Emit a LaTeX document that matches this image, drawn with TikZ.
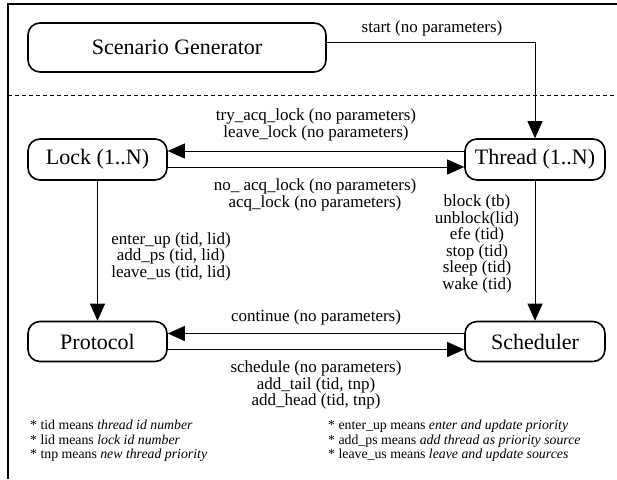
\documentclass[tikz,border=0pt]{standalone}
\usepackage{fontspec}
\setmainfont{Liberation Serif}
\usetikzlibrary{arrows.meta}
\begin{document}
\begin{tikzpicture}[x=1pt,y=-1pt,
  unit/.style={draw, line width=1.6pt, rounded corners=12pt, inner sep=0pt,
    font=\fontsize{22}{26}\selectfont},
  msg/.style={align=center, inner sep=0pt, font=\fontsize{17}{14.8}\selectfont},
  note/.style={align=left, anchor=north west, inner sep=0pt, font=\fontsize{13.8}{14.5}\selectfont},
  flow/.style={line width=0.8pt, -{Triangle[length=17pt,width=15pt]}},
  frameline/.style={line width=2pt}]
\useasboundingbox (0,0) rectangle (617,479);

% outer frame (only top and left edges fall inside the page)
\coordinate (fTR) at (617,4);
\coordinate (fTL) at (8,4);
\coordinate (fBL) at (8,479);
\draw[frameline] (fTR) -- (fTL) -- (fBL);

% separator between the generator and the system under test
\coordinate (sepL) at (8,95);
\coordinate (sepR) at (617,95);
\draw[line width=0.8pt, dash pattern=on 4pt off 3pt] (sepL) -- (sepR);

% components
\node[unit, minimum width=298pt, minimum height=49pt] (gen) at (177,47.5) {Scenario Generator};
\node[unit, minimum width=139pt, minimum height=41pt] (lock) at (97.5,159.5) {Lock (1..N)};
\node[unit, minimum width=140pt, minimum height=41pt] (thread) at (535,159.5) {Thread (1..N)};
\node[unit, minimum width=139pt, minimum height=40pt] (proto) at (97.5,341.5) {Protocol};
\node[unit, minimum width=140pt, minimum height=40pt] (sched) at (535,341.5) {Scheduler};

% messages
\draw[flow] ([yshift=5pt]gen.east) -| (thread.north);
\draw[flow] ([yshift=8.5pt]thread.west) -- ([yshift=8.5pt]lock.east);
\draw[flow] ([yshift=-7.5pt]lock.east) -- ([yshift=-7.5pt]thread.west);
\draw[flow] (lock.south) -- (proto.north);
\draw[flow] (thread.south) -- (sched.north);
\draw[flow] ([yshift=8pt]sched.west) -- ([yshift=8pt]proto.east);
\draw[flow] ([yshift=-8pt]proto.east) -- ([yshift=-8pt]sched.west);

% message labels
\node[msg] (lStart) at (432,28) {start (no parameters)};
\node[msg] (lTry) at (316,125) {try\_acq\_lock (no parameters)\\leave\_lock (no parameters)};
\node[msg] (lAcq) at (315,195) {no\_ acq\_lock (no parameters)\\acq\_lock (no parameters)};
\node[msg] (lBlock) at (477,244) {block (tb)\\unblock(lid)\\efe (tid)\\stop (tid)\\sleep (tid)\\wake (tid)};
\node[msg] (lEnter) at (171,256.5) {enter\_up (tid, lid)\\add\_ps (tid, lid)\\leave\_us (tid, lid)};
\node[msg] (lCont) at (316,317) {continue (no parameters)};
\node[msg] (lSched) at (316,385) {schedule (no parameters)\\add\_tail (tid, tnp)\\add\_head (tid, tnp)};

% legend
\node[note] (legL) at (30,420) {* tid means \textit{thread id number}\\* lid means \textit{lock id number}\\* tnp means \textit{new thread priority}};
\node[note] (legR) at (328,420) {* enter\_up means \textit{enter and update priority}\\* add\_ps means \textit{add thread as priority source}\\* leave\_us means \textit{leave and update sources}};
\end{tikzpicture}
\end{document}
